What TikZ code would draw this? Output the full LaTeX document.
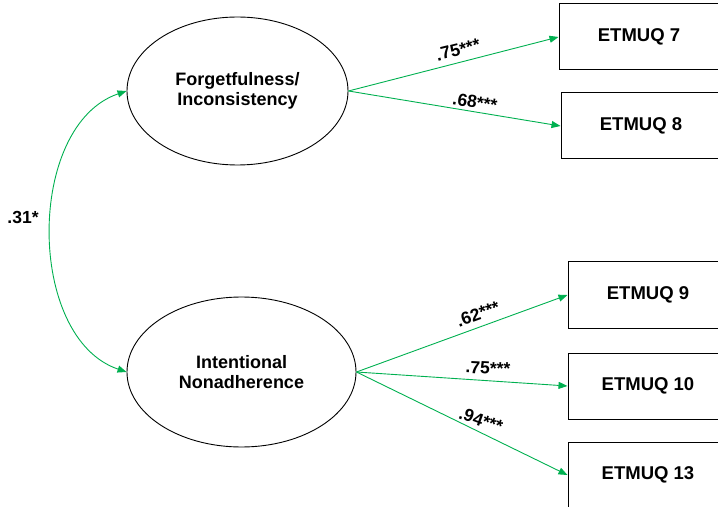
\documentclass[tikz,border=0pt]{standalone}
\usepackage{fontspec}
\setmainfont{Liberation Sans}
\usetikzlibrary{shapes.geometric,arrows.meta}
\definecolor{pathgreen}{RGB}{0,176,80}
\tikzset{
  latent/.style={ellipse,draw=black,line width=0.9bp,inner sep=0pt,minimum width=#1,align=center,
    font=\fontsize{18bp}{20.5bp}\selectfont\bfseries},
  obsbox/.style={rectangle,draw=black,line width=1bp,minimum width=160bp,minimum height=66bp,inner sep=0pt,
    font=\fontsize{18.5bp}{20bp}\selectfont\bfseries},
  path arrow/.style={draw=pathgreen,line width=0.9bp,-{Triangle[length=9bp,width=7bp]}},
  coef/.style={font=\fontsize{17.5bp}{20bp}\selectfont\bfseries,inner sep=0pt}
}
\begin{document}
\begin{tikzpicture}[x=1bp,y=-1bp]
\useasboundingbox (0,0) rectangle (718,507);
\clip (0,0) rectangle (718,507);
\node[latent=221bp,minimum height=148bp] (fi) at (237.5,91) {Forgetfulness/\\Inconsistency};
\node[latent=229bp,minimum height=150bp] (in) at (241.5,372) {Intentional\\Nonadherence};
\node[obsbox] (e7) at (639,37) {ETMUQ 7};
\node[obsbox] (e8) at (641,126) {ETMUQ 8};
\node[obsbox] (e9) at (648,295) {ETMUQ 9};
\node[obsbox] (e10) at (648,386) {ETMUQ 10};
\node[obsbox] (e13) at (648,475) {ETMUQ 13};
\draw[path arrow] (fi.east) -- (e7.west);
\draw[path arrow] (fi.east) -- (e8.west);
\draw[path arrow] (in.east) -- (e9.west);
\draw[path arrow] (in.east) -- (e10.west);
\draw[path arrow] (in.east) -- (e13.west);
\draw[draw=pathgreen,line width=0.9bp,{Triangle[length=9bp,width=7bp]}-{Triangle[length=9bp,width=7bp]}]
  (fi.west) .. controls (26,125) and (26,338) .. (in.west);
\node[coef] (c31) at (23,217) {.31*};
\node[coef,rotate=14] (c75a) at (458,50) {.75***};
\node[coef,rotate=-9] (c68) at (475,102) {.68***};
\node[coef,rotate=20] (c62) at (478,314) {.62***};
\node[coef,rotate=-3] (c75b) at (488,368) {.75***};
\node[coef,rotate=-20] (c94) at (481,420) {.94***};
\end{tikzpicture}
\end{document}
